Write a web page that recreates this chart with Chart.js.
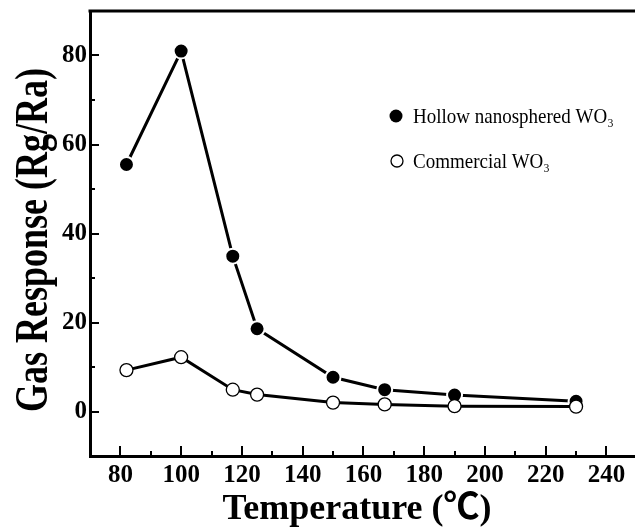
<!DOCTYPE html>
<html>
<head>
<meta charset="utf-8">
<script src="https://cdn.jsdelivr.net/npm/chart.js@4/dist/chart.umd.min.js"></script>
<style>
  html, body { margin: 0; padding: 0; background: #fff; overflow: hidden; }
  #chart { display: block; }
</style>
</head>
<body>
<canvas id="chart" width="635" height="527"></canvas>
<script>
// Operating temperature (°C)
const temperatures = [82, 100, 117, 125, 150, 167, 190, 230];
// Gas response (Rg/Ra) of each sensing material
const hollowResponse = [55.5, 81, 34.9, 18.6, 7.7, 4.9, 3.7, 2.3];
const commercialResponse = [9.3, 12.2, 4.9, 3.8, 2.0, 1.6, 1.2, 1.1];
const seriesLabels = ['Hollow nanosphered WO\u2083', 'Commercial WO\u2083'];
const xTickLabels = [80, 100, 120, 140, 160, 180, 200, 220, 240];
const yTickLabels = [0, 20, 40, 60, 80];
const xTitle = 'Temperature (\u2103)';
const yTitle = 'Gas Response (Rg/Ra)';

const SERIF = '"Liberation Serif", "Times New Roman", "Noto Sans CJK SC", serif';

const toPoints = (xs, ys) => xs.map((x, i) => ({ x, y: ys[i] }));

// Inward tick marks, top frame line, axis titles and the in-plot legend
const framePlugin = {
  id: 'frame',
  afterDraw(chart) {
    const { ctx, chartArea: a, scales } = chart;
    ctx.save();
    ctx.strokeStyle = '#000';
    ctx.fillStyle = '#000';
    ctx.lineWidth = 2;
    const xs = scales.x, ys = scales.y;
    for (let v = 80; v <= 240; v += 10) {
      const px = Math.round(xs.getPixelForValue(v));
      const len = v % 20 === 0 ? 10 : 5;
      ctx.beginPath(); ctx.moveTo(px, a.bottom); ctx.lineTo(px, a.bottom - len); ctx.stroke();
    }
    for (let v = 0; v <= 80; v += 10) {
      const py = Math.round(ys.getPixelForValue(v));
      const len = v % 20 === 0 ? 9 : 5;
      ctx.beginPath(); ctx.moveTo(a.left, py); ctx.lineTo(a.left + len, py); ctx.stroke();
    }
    // top frame
    ctx.lineWidth = 3;
    ctx.beginPath(); ctx.moveTo(a.left - 1.5, a.top); ctx.lineTo(a.right + 5, a.top); ctx.stroke();

    // axis titles
    ctx.font = 'bold 36px ' + SERIF;
    ctx.textAlign = 'center';
    ctx.textBaseline = 'alphabetic';
    ctx.fillText(xTitle, 357, 519);

    ctx.save();
    ctx.translate(47, 240);
    ctx.rotate(-Math.PI / 2);
    ctx.scale(1, 1.3);
    ctx.fillText(yTitle, 0, 0);
    ctx.restore();

    // legend
    const items = [
      { filled: true, x: 396, y: 116 },
      { filled: false, x: 397, y: 161 }
    ];
    ctx.font = '19px ' + SERIF;
    ctx.textAlign = 'left';
    ctx.textBaseline = 'middle';
    items.forEach((it, i) => {
      ctx.beginPath();
      ctx.arc(it.x, it.y, it.filled ? 6.5 : 6, 0, Math.PI * 2);
      if (it.filled) { ctx.fillStyle = '#000'; ctx.fill(); }
      else { ctx.fillStyle = '#fff'; ctx.fill(); ctx.lineWidth = 1.3; ctx.stroke(); }
      ctx.fillStyle = '#000';
      ctx.save();
      ctx.translate(413, it.y + 1);
      ctx.scale(1, 1.12);
      ctx.fillText(seriesLabels[i], 0, 0);
      ctx.restore();
    });
    ctx.restore();
  }
};

new Chart(document.getElementById('chart'), {
  type: 'scatter',
  data: {
    datasets: [
      {
        label: seriesLabels[0],
        data: toPoints(temperatures, hollowResponse),
        showLine: true,
        borderColor: '#000',
        borderWidth: 3,
        pointRadius: 7.5,
        pointBackgroundColor: '#000',
        pointBorderColor: '#fff',
        pointBorderWidth: 2,
        order: 2
      },
      {
        label: seriesLabels[1],
        data: toPoints(temperatures, commercialResponse),
        showLine: true,
        borderColor: '#000',
        borderWidth: 3,
        pointRadius: 6.5,
        pointBackgroundColor: '#fff',
        pointBorderColor: '#000',
        pointBorderWidth: 1.3,
        order: 1
      }
    ]
  },
  options: {
    responsive: false,
    animation: false,
    devicePixelRatio: 1,
    layout: { autoPadding: false, padding: { top: 11, right: 0, left: 0, bottom: 0 } },
    plugins: { legend: { display: false }, tooltip: { enabled: false } },
    scales: {
      x: {
        type: 'linear',
        min: 70, max: 249.4,
        afterFit(s) { s.height = 71; s.paddingLeft = 0; s.paddingRight = 0; },
        afterBuildTicks(s) { s.ticks = xTickLabels.map(v => ({ value: v })); },
        grid: { display: false, drawTicks: false },
        border: { display: true, color: '#000', width: 3 },
        ticks: {
          color: '#000', padding: 5,
          font: { family: SERIF, size: 25, weight: 'bold' }
        }
      },
      y: {
        type: 'linear',
        min: -10, max: 90,
        afterFit(s) { s.width = 90; s.paddingTop = 0; s.paddingBottom = 0; },
        afterBuildTicks(s) { s.ticks = yTickLabels.map(v => ({ value: v })); },
        grid: { display: false, drawTicks: false },
        border: { display: true, color: '#000', width: 3 },
        ticks: {
          color: '#000', padding: 3,
          font: { family: SERIF, size: 25, weight: 'bold' }
        }
      }
    }
  },
  plugins: [framePlugin]
});
</script>
</body>
</html>
